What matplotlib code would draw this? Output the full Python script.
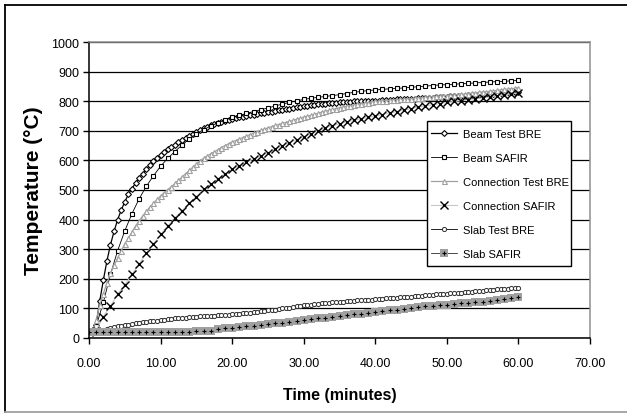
import numpy as np
import matplotlib
matplotlib.use("Agg")
import matplotlib.pyplot as plt
from matplotlib.lines import Line2D
from matplotlib.patches import Rectangle
from matplotlib.legend_handler import HandlerTuple

plt.rcParams['font.family'] = ['Liberation Sans', 'DejaVu Sans']

# Sample times (minutes)
t_half = np.arange(0, 60.01, 0.5)   # test records every 0.5 min
t_one = np.arange(0, 60.01, 1.0)    # SAFIR output every 1 min

beam_test_bre = [
    20, 22, 45, 125, 195, 260, 315, 360, 400, 432, 460, 485, 505, 523, 540, 555, 570, 584, 597, 608, 618,
    628, 637, 645, 653, 661, 668, 675, 683, 690, 697, 703, 709, 714, 719, 723, 727, 730, 733, 736, 739,
    742, 745, 747, 750, 752, 755, 757, 759, 761, 763, 765, 767, 769, 771, 773, 775, 777, 779, 781, 783,
    784, 786, 787, 789, 790, 792, 793, 794, 795, 796, 797, 798, 798, 799, 799, 800, 800, 801, 801, 802,
    802, 803, 804, 805, 805, 806, 806, 807, 808, 809, 809, 810, 811, 811, 812, 812, 813, 814, 814, 815,
    816, 817, 817, 818, 819, 820, 820, 821, 822, 823, 824, 825, 826, 827, 828, 829, 830, 830, 831, 832,
]

beam_safir = [
    20, 40, 120, 215, 295, 362, 420, 470, 512, 548, 580,
    607, 630, 652, 672, 690, 704, 716, 727, 737, 745,
    752, 759, 765, 771, 777, 784, 790, 796, 801, 806,
    810, 813, 816, 819, 822, 826, 830, 833, 836, 838,
    840, 842, 843, 845, 847, 849, 851, 853, 855, 856,
    857, 859, 860, 862, 863, 865, 866, 867, 869, 870,
]

connection_test_bre = [
    20, 22, 60, 110, 150, 185, 218, 245, 270, 295, 318, 338, 358, 378, 396, 412, 428, 442, 455, 468, 480,
    491, 501, 511, 522, 533, 544, 555, 566, 577, 588, 598, 607, 615, 622, 629, 636, 643, 650, 656, 662,
    667, 672, 677, 682, 687, 692, 697, 702, 706, 710, 714, 718, 721, 725, 728, 732, 735, 739, 742, 746,
    749, 752, 756, 759, 763, 766, 769, 772, 775, 778, 780, 783, 785, 787, 789, 791, 793, 795, 797, 799,
    800, 801, 802, 803, 804, 805, 806, 807, 808, 809, 810, 811, 812, 813, 814, 815, 816, 817, 818, 819,
    820, 821, 822, 823, 824, 826, 827, 828, 830, 831, 832, 834, 835, 837, 838, 840, 841, 842, 844, 845,
]

connection_safir = [
    20, 25, 72, 108, 148, 180, 215, 250, 286, 318, 350,
    378, 406, 430, 455, 478, 502, 520, 538, 555, 570,
    582, 594, 605, 615, 626, 638, 649, 660, 670, 680,
    690, 700, 710, 717, 724, 730, 735, 740, 745, 750,
    755, 760, 765, 770, 775, 780, 784, 788, 792, 796,
    799, 802, 805, 808, 811, 814, 818, 821, 825, 828,
]

slab_test_bre = [
    20, 21, 22, 24, 27, 30, 33, 36, 39, 41, 43, 45, 47, 49, 51, 53, 55, 56, 58, 59, 61,
    62, 63, 65, 66, 67, 68, 69, 70, 71, 72, 73, 74, 74, 75, 76, 77, 77, 78, 79, 80,
    81, 82, 83, 85, 86, 87, 88, 90, 91, 93, 94, 96, 98, 100, 101, 103, 105, 107, 108, 110,
    111, 113, 114, 115, 117, 118, 119, 120, 121, 122, 123, 124, 125, 126, 127, 128, 129, 129, 130, 131,
    132, 133, 134, 135, 136, 136, 137, 138, 139, 140, 141, 142, 143, 144, 145, 146, 147, 148, 149, 150,
    151, 151, 152, 153, 155, 156, 157, 158, 159, 160, 161, 162, 163, 164, 165, 166, 167, 168, 169, 170,
]

slab_safir = [
    20, 20, 20, 20, 20, 20, 20, 20, 20, 20, 21,
    21, 21, 21, 21, 22, 22, 22, 31, 33, 35,
    37, 40, 42, 45, 47, 50, 52, 54, 57, 60,
    63, 66, 69, 72, 75, 77, 80, 82, 85, 88,
    91, 94, 96, 99, 101, 104, 107, 109, 111, 113,
    115, 117, 119, 121, 123, 126, 129, 131, 134, 137,
]

labels = ["Beam Test BRE", "Beam SAFIR", "Connection Test BRE",
          "Connection SAFIR", "Slab Test BRE", "Slab SAFIR"]
x_ticks = np.arange(0, 71, 10)
y_ticks = np.arange(0, 1001, 100)

W, H = 627, 414
fig = plt.figure(figsize=(W / 100, H / 100), dpi=100)
ax = fig.add_axes([89 / W, 1 - 339 / H, 501 / W, 296 / H])

gray = '#a0a0a0'
h1, = ax.plot(t_half, beam_test_bre, color='black', lw=0.9, marker='D', ms=3.0,
              mfc='white', mec='black', mew=0.8)
h2, = ax.plot(t_one, beam_safir, color='black', lw=0.6, marker='s', ms=3.4,
              mfc='white', mec='black', mew=0.8)
h3, = ax.plot(t_half, connection_test_bre, color=gray, lw=0.9, marker='^', ms=3.6,
              mfc='white', mec=gray, mew=0.8)
h4, = ax.plot(t_one, connection_safir, color='#c8c8c8', lw=0.8, marker='x', ms=5.5,
              mec='black', mew=1.0)
h5, = ax.plot(t_half, slab_test_bre, color='black', lw=0.6, marker='o', ms=3.0,
              mfc='white', mec='#303030', mew=0.7)
h6a, = ax.plot(t_one, slab_safir, color='black', lw=0.5, marker='s', ms=6.0,
               mfc=gray, mec=gray, mew=0)
h6b, = ax.plot(t_one, slab_safir, ls='none', marker='+', ms=3.0, mec='black', mew=0.8)

ax.set_xlim(0, 70)
ax.set_ylim(0, 1000)
ax.set_xticks(x_ticks)
ax.set_xticklabels([f"{v:.2f}" for v in x_ticks])
ax.set_yticks(y_ticks)
ax.set_yticklabels([str(v) for v in y_ticks])
ax.tick_params(axis='both', direction='out', length=4, width=1.0, labelsize=9,
               colors='black', pad=3)
ax.tick_params(axis='x', pad=9.5)

ax.set_axisbelow(True)
ax.yaxis.grid(True, color='black', lw=0.9)
for s in ('left', 'bottom'):
    ax.spines[s].set_color('black')
    ax.spines[s].set_linewidth(1.1)
for s in ('top', 'right'):
    ax.spines[s].set_color('#909090')
    ax.spines[s].set_linewidth(1.1)

ax.set_xlabel("Time (minutes)", fontsize=11.5, fontweight='bold', labelpad=13.5)
ax.set_ylabel("Temperature (°C)", fontsize=15, fontweight='bold', labelpad=6)

# Legend box drawn separately so its padding can differ per side
fig.add_artist(Rectangle((427 / W, 1 - 267 / H), 144 / W, 145 / H,
                         transform=fig.transFigure, facecolor='white',
                         edgecolor='black', lw=1.0, zorder=4))
leg = ax.legend([h1, h2, h3, h4, h5, (h6a, h6b)], labels,
                handler_map={tuple: HandlerTuple(ndivide=1, pad=0)},
                loc='upper left', bbox_to_anchor=(431 / W, 1 - 130 / H),
                bbox_transform=fig.transFigure, fontsize=8, frameon=False,
                borderpad=0, labelspacing=1.26, handlelength=2.35,
                handletextpad=0.54, borderaxespad=0)
leg.set_zorder(5)
leg.remove()
fig.add_artist(leg)

# Outer frame around the chart area
fig.add_artist(Line2D([5 / W, 5 / W], [1 / H, 1 - 6 / H], color='black', lw=1.3,
                      transform=fig.transFigure))
fig.add_artist(Line2D([5 / W, 1], [1 - 6 / H, 1 - 6 / H], color='black', lw=1.3,
                      transform=fig.transFigure))
fig.add_artist(Line2D([5 / W, 1], [1.5 / H, 1.5 / H], color='#a0a0a0', lw=1.3,
                      transform=fig.transFigure))

fig.savefig("out.png", dpi=100)
